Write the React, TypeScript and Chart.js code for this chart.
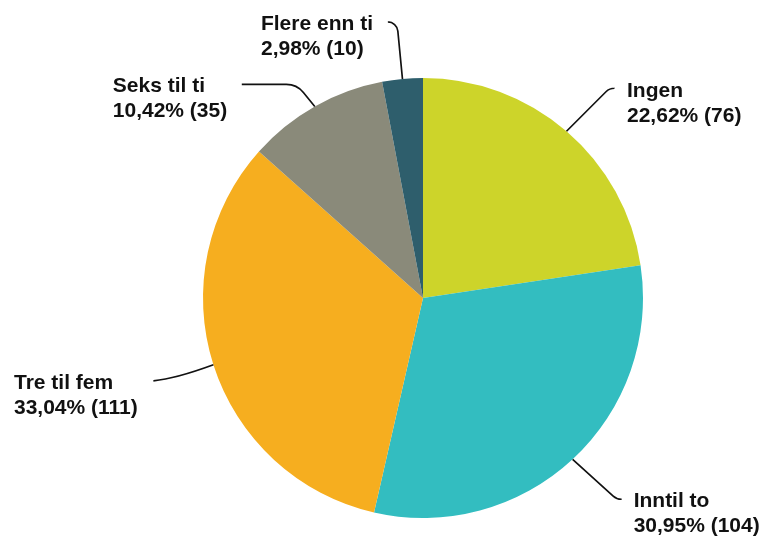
import React, { useEffect, useRef } from "react";
import { Chart, registerables } from "chart.js";

Chart.register(...registerables);

const categories = ["Ingen", "Inntil to", "Tre til fem", "Seks til ti", "Flere enn ti"];
const counts = [76, 104, 111, 35, 10];
const percentLabels = ["22,62%", "30,95%", "33,04%", "10,42%", "2,98%"];
const colors = ["#CDD42A", "#33BDC0", "#F6AE1F", "#8A8A7A", "#2E5E6C"];

// label layout offsets relative to the slice's outer mid-point
type Lay = { kind: "arc" | "quad"; c: [number, number]; e: [number, number]; r: number; t: [number, number] };
const labelLayout: Lay[] = [
  { kind: "arc", c: [43, -43], e: [47.5, -43], r: 12, t: [60.5, -34] },
  { kind: "arc", c: [44, 40], e: [49, 40], r: 12, t: [61, 47.5] },
  { kind: "quad", c: [-38, 14], e: [-60, 16], r: 0, t: [-199.4, 24] },
  { kind: "arc", c: [-18, -22], e: [-73, -22], r: 22, t: [-202, -14.6] },
  { kind: "arc", c: [-5.5, -57], e: [-14.5, -57], r: 10, t: [-141.5, -49] },
];

const labelPlugin = {
  id: "pieLabels",
  afterDatasetsDraw(chart: any) {
    const ctx = chart.ctx as CanvasRenderingContext2D;
    const meta = chart.getDatasetMeta(0);
    ctx.save();
    meta.data.forEach((arc: any, i: number) => {
      const { x, y, startAngle, endAngle, outerRadius } = arc.getProps(
        ["x", "y", "startAngle", "endAngle", "outerRadius"],
        true
      );
      const mid = (startAngle + endAngle) / 2;
      const ax = x + Math.cos(mid) * outerRadius;
      const ay = y + Math.sin(mid) * outerRadius;
      const L = labelLayout[i];
      ctx.strokeStyle = "#111111";
      ctx.lineWidth = 1.7;
      ctx.beginPath();
      ctx.moveTo(ax, ay);
      if (L.kind === "arc") {
        ctx.arcTo(ax + L.c[0], ay + L.c[1], ax + L.e[0], ay + L.e[1], L.r);
        ctx.lineTo(ax + L.e[0], ay + L.e[1]);
      } else {
        ctx.quadraticCurveTo(ax + L.c[0], ay + L.c[1], ax + L.e[0], ay + L.e[1]);
      }
      ctx.stroke();
      ctx.fillStyle = "#111111";
      ctx.font = "bold 21px 'Liberation Sans', Arial, sans-serif";
      ctx.textAlign = "left";
      ctx.textBaseline = "alphabetic";
      const tx = ax + L.t[0];
      const ty = ay + L.t[1];
      ctx.fillText(categories[i], tx, ty);
      ctx.fillText(`${percentLabels[i]} (${counts[i]})`, tx, ty + 25);
    });
    ctx.restore();
  },
};

export default function App() {
  const ref = useRef<HTMLCanvasElement>(null);
  useEffect(() => {
    if (!ref.current) return;
    const chart = new Chart(ref.current, {
      type: "pie",
      data: {
        labels: categories,
        datasets: [
          {
            data: counts,
            backgroundColor: colors,
            borderWidth: 0,
          },
        ],
      },
      options: {
        responsive: false,
        animation: false,
        layout: { padding: { left: 203, right: 125, top: 78, bottom: 20 } },
        plugins: {
          legend: { display: false },
          tooltip: { enabled: false },
        },
      },
      plugins: [labelPlugin],
    });
    return () => chart.destroy();
  }, []);
  return (
    <div style={{ position: "fixed", left: 0, top: 0, width: 768, height: 538, background: "#fff" }}>
      <canvas ref={ref} width={768} height={538} style={{ display: "block" }} />
    </div>
  );
}
